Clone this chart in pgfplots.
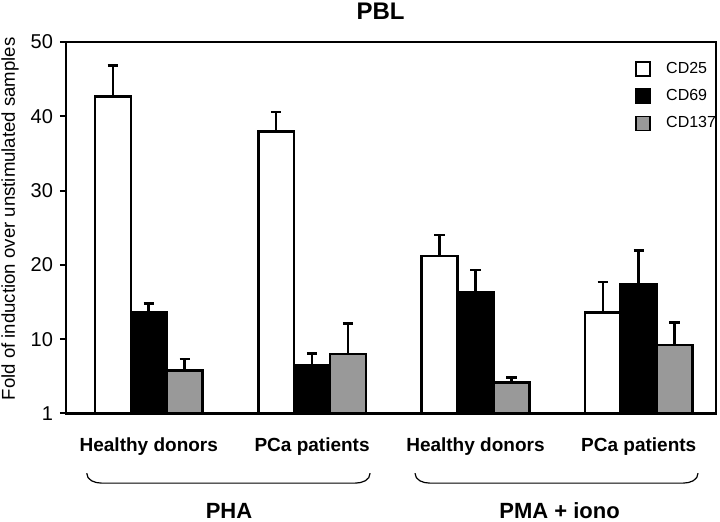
\documentclass[border=0pt]{standalone}
\usepackage{fontspec}
\setmainfont{Liberation Sans}
\usepackage{pgfplots}
\pgfplotsset{compat=1.18}
\begin{document}
\begin{tikzpicture}
\useasboundingbox (-33pt,-53.85pt) rectangle (327pt,206.7pt);
\begin{axis}[
  at={(0,0)}, anchor=south west,
  scale only axis, width=325pt, height=185.7pt,
  xmin=-0.507, xmax=3.473, ymin=0, ymax=50,
  clip=false,
  ybar, bar width=0.22,
  axis line style={line width=1.3pt},
  ytick={0,10,20,30,40,50},
  yticklabels={1,10,20,30,40,50},
  ytick pos=left, tick align=outside,
  major tick length=3pt,
  y tick style={line width=1pt, black},
  xtick={0,1,2,3},
  xticklabels={Healthy donors, PCa patients, Healthy donors, PCa patients},
  x tick style={draw=none},
  xticklabel style={font=\fontsize{9.5}{11}\selectfont\bfseries, anchor=base, yshift=-15.85pt},
  yticklabel style={font=\fontsize{10}{12}\selectfont},
  /pgf/number format/assume math mode=true,
  title={PBL},
  every axis title/.style={font=\fontsize{12}{14}\selectfont\bfseries, at={(axis description cs:0.484,1)}, anchor=base, yshift=11.3pt},
  ylabel={Fold of induction over unstimulated samples},
  ylabel style={font=\fontsize{9.3}{11}\selectfont, at={(axis description cs:-0.0862,0.524)}, anchor=center},
  legend image code/.code={\draw[#1,/tikz/.cd,line width=0.9pt] (0pt,-3.5pt) rectangle (7pt,3.5pt);},
  legend style={draw=none, fill=none, at={(axis description cs:0.8754,0.9497)}, anchor=north west,
    font=\fontsize{8}{9}\selectfont, row sep=5.75pt, column sep=7.5pt, inner sep=0pt,
    nodes={inner sep=0pt}},
  legend cell align=left,
  error bars/y dir=plus,
  error bars/y explicit,
  error bars/error bar style={line width=1.3pt, black},
  error bars/error mark options={rotate=90, mark size=2.6pt, line width=1.3pt, black},
]
\addplot[bar shift=-0.22, fill=white, draw=black, line width=1.3pt]
  coordinates {(0,42.7) +- (0,4.1) (1,37.95) +- (0,2.65) (2,21.2) +- (0,2.8) (3,13.56) +- (0,4.15)};
\addplot[bar shift=0, fill=black, draw=black, line width=1.3pt]
  coordinates {(0,13.6) +- (0,1.2) (1,6.5) +- (0,1.6) (2,16.25) +- (0,3.05) (3,17.4) +- (0,4.5)};
\addplot[bar shift=0.22, fill=black!40, draw=black, line width=1.3pt]
  coordinates {(0,5.8) +- (0,1.5) (1,8.0) +- (0,4.1) (2,4.2) +- (0,0.65) (3,9.2) +- (0,3.0)};
\legend{CD25, CD69, CD137}
\draw[line width=0.6pt] ([yshift=-29.9pt]axis cs:-0.38,0) to[out=-90,in=180] ([yshift=-34.85pt]axis cs:-0.29,0) -- ([yshift=-34.85pt]axis cs:1.265,0) to[out=0,in=-90] ([yshift=-29.9pt]axis cs:1.355,0);
\draw[line width=0.6pt] ([yshift=-29.9pt]axis cs:1.63,0) to[out=-90,in=180] ([yshift=-34.85pt]axis cs:1.72,0) -- ([yshift=-34.85pt]axis cs:3.273,0) to[out=0,in=-90] ([yshift=-29.9pt]axis cs:3.363,0);
\node[anchor=base, font=\fontsize{11}{13}\selectfont\bfseries] at ([yshift=-52.5pt]axis cs:0.491,0) {PHA};
\node[anchor=base, font=\fontsize{11}{13}\selectfont\bfseries] at ([yshift=-52.5pt]axis cs:2.515,0) {PMA + iono};
\end{axis}
\end{tikzpicture}
\end{document}
